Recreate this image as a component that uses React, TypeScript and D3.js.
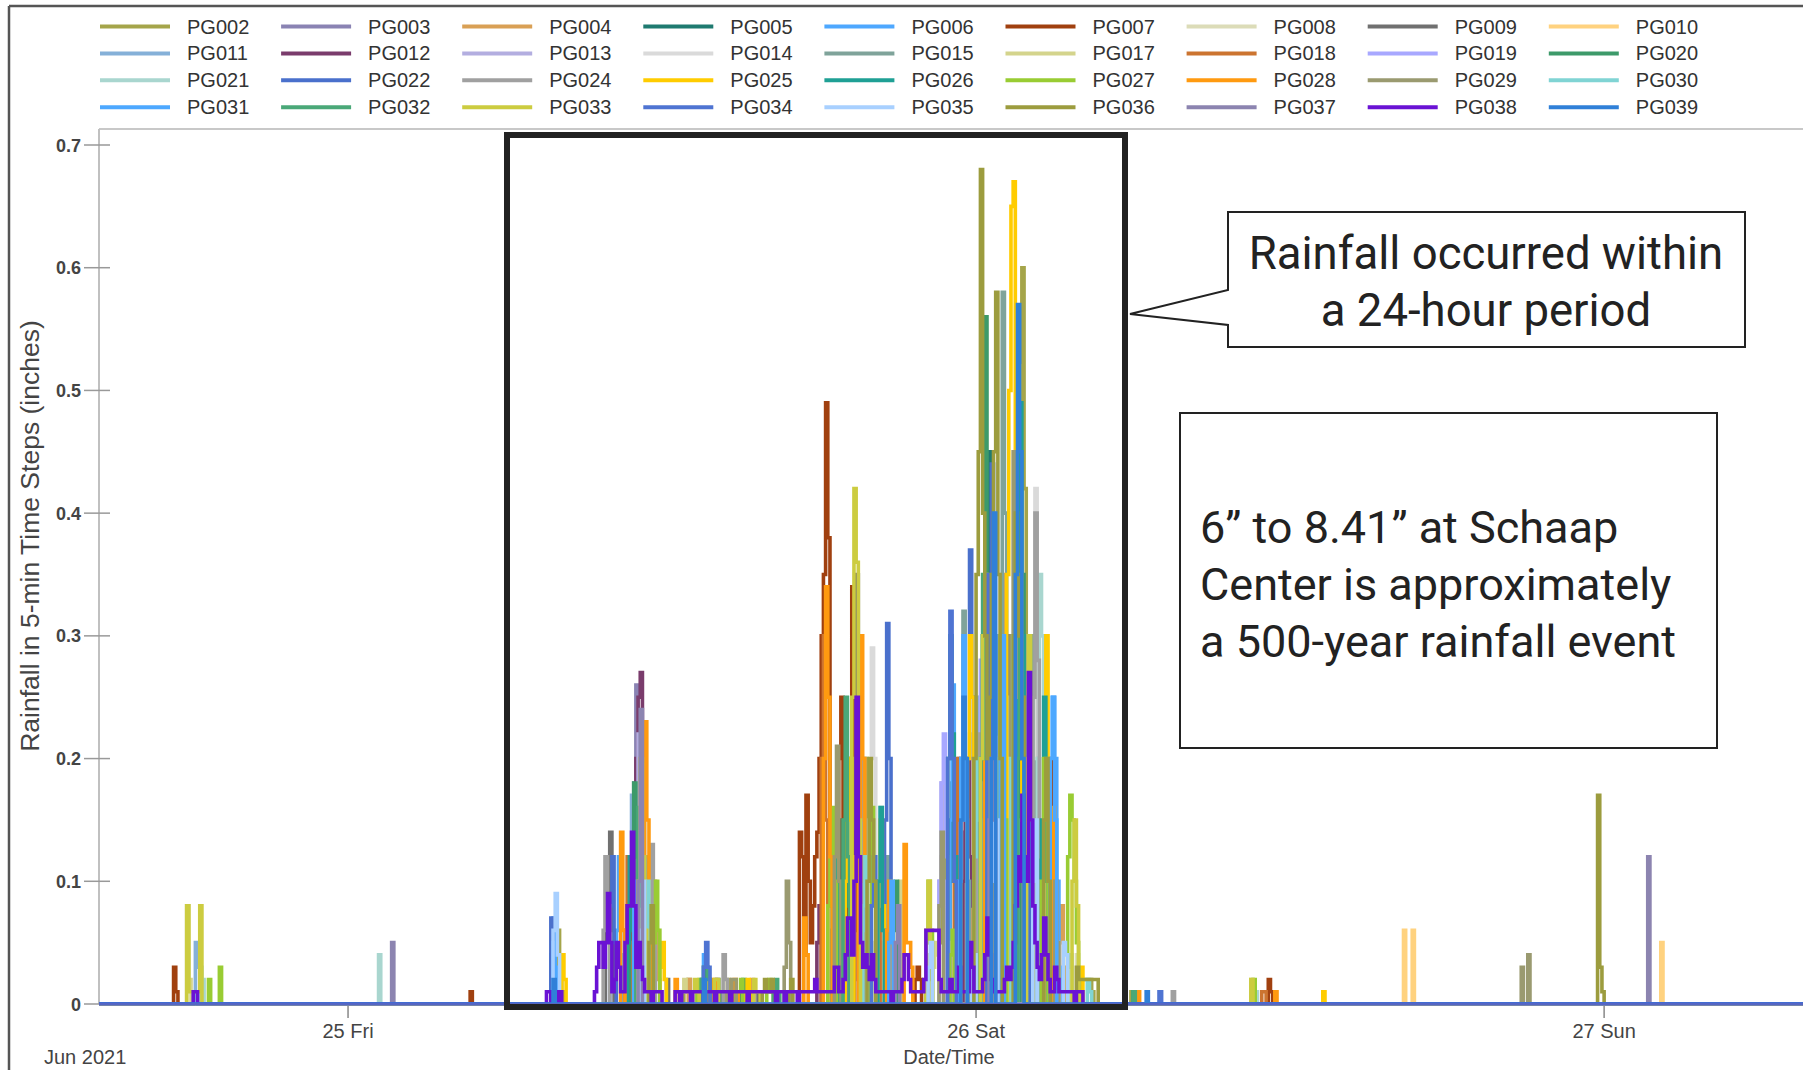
import React from "react";
import * as d3 from "d3";

type Run = [number, number[]];
// time = hours since 2021-06-24 00:00, values = consecutive 5-min rainfall (inches)

const PG002: Run[] = [[31.92,[0.03,0.06,0.03,0.01]],[35.25,[0.04,0.08,0.12,0.06,0.02]],[36.83,[0.01,0.01,0.02,0.01]],[38.42,[0.01,0.02,0.01,0.01]],[42.58,[0.06,0.12,0.08,0.03]],[43.67,[0.1,0.2,0.12]],[46.17,[0.02,0.04]],[46.58,[0.05,0.12,0.18,0.1]],[48.08,[0.15,0.25,0.3,0.2]],[49.58,[0.2,0.35,0.6,0.42,0.2,0.1]],[52.0,[0.02,0.02,0.02,0.02,0.02,0.01]],[53.92,[0.01]]];
const PG003: Run[] = [[34.75,[0.03,0.1,0.18,0.26,0.15,0.06,0.02]],[39.0,[0.01,0.01]],[42.83,[0.04,0.08,0.05]],[47.25,[0.1,0.2,0.14]],[48.0,[0.1,0.15,0.22,0.18,0.12,0.2,0.25,0.15]],[50.5,[0.1,0.06]]];
const PG004: Run[] = [[35.58,[0.04,0.1,0.06,0.02]],[37.0,[0.02,0.01]],[39.33,[0.01,0.02]],[42.92,[0.1,0.2,0.15,0.08]],[44.5,[0.05,0.08]],[47.5,[0.05,0.1,0.15,0.12]],[48.92,[0.2,0.35,0.25,0.1]],[51.17,[0.05,0.08,0.03]]];
const PG005: Run[] = [[34.83,[0.05,0.1,0.04]],[38.0,[0.01,0.02,0.01]],[42.75,[0.08,0.15,0.1]],[47.0,[0.1,0.18,0.12]],[48.33,[0.15,0.3,0.45,0.3,0.15]],[49.5,[0.25,0.35,0.2]],[50.33,[0.2,0.1]]];
const PG006: Run[] = [[31.75,[0.04,0.07,0.03]],[34.25,[0.06,0.12,0.04]],[37.5,[0.02,0.04,0.02]],[47.0,[0.15,0.26,0.1]],[48.92,[0.15,0.3,0.2]],[50.83,[0.15,0.25,0.2,0.1,0.03]]];
const PG007: Run[] = [[17.33,[0.03,0.01]],[28.67,[0.01]],[34.67,[0.08,0.12,0.05]],[41.25,[0.14,0.12,0.04,0.17,0.1,0.05,0.08,0.12,0.14,0.2,0.3,0.35,0.49,0.38,0.15,0.08,0.04,0.1,0.2,0.25,0.12,0.06,0.1,0.2,0.34,0.18,0.06,0.02]],[45.67,[0.02,0.03,0.02]],[50.75,[0.1,0.2,0.13,0.05]],[59.17,[0.02,0.01]]];
const PG008: Run[] = [[35.42,[0.05,0.08,0.03]],[43.83,[0.06,0.12,0.05]],[47.58,[0.1,0.18,0.22,0.12]],[49.17,[0.15,0.25,0.1]],[51.83,[0.04]]];
const PG009: Run[] = [[33.83,[0.12,0.08,0.14,0.06]],[36.17,[0.02]],[39.5,[0.01,0.01]],[42.5,[0.06,0.1]],[43.33,[0.2,0.35,0.22,0.1]],[48.42,[0.1,0.2,0.15]],[49.17,[0.2,0.3,0.25]],[50.17,[0.3,0.15]]];
const PG010: Run[] = [[64.33,[0.06,0,0,0,0.06]],[74.17,[0.05]]];
const PG011: Run[] = [[18.17,[0.05,0.03]],[34.75,[0.1,0.17,0.08]],[43.58,[0.08,0.15,0.06]],[47.92,[0.15,0.25,0.2,0.1]],[49.92,[0.2,0.3,0.15]]];
const PG012: Run[] = [[34.83,[0.04,0.12,0.2,0.25,0.27,0.12,0.04]],[41.92,[0.05,0.08]],[43.33,[0.1,0.14]],[47.5,[0.1,0.15,0.2,0.12,0.08]],[49.08,[0.1,0.18,0.08]]];
const PG013: Run[] = [[35.0,[0.1,0.22,0.12]],[46.58,[0.1,0.18,0.1]],[48.33,[0.15,0.25,0.3,0.2]],[50.33,[0.1,0.05]]];
const PG014: Run[] = [[35.5,[0.06,0.1]],[39.17,[0.01,0.01]],[43.92,[0.15,0.29,0.2,0.1,0.05]],[48.42,[0.15,0.25,0.2]],[50.17,[0.2,0.42,0.3,0.15]],[51.0,[0.03,0.05]]];
const PG015: Run[] = [[35.17,[0.06,0.12,0.05]],[44.5,[0.08,0.12]],[47.42,[0.2,0.32,0.2,0.1]],[48.92,[0.3,0.58,0.4,0.25,0.1]],[50.0,[0.2,0.3,0.15]]];
const PG017: Run[] = [[17.83,[0.08,0.02]],[35.33,[0.05,0.08]],[36.67,[0.01,0.01,0.02,0.01,0.01]],[43.0,[0.1,0.18,0.12]],[45.0,[0.06,0.1]],[46.33,[0.03,0.05,0.04]],[49.0,[0.15,0.25,0.2]],[58.5,[0.02]]];
const PG018: Run[] = [[34.58,[0.06,0.12,0.05]],[42.08,[0.2,0.3,0.15]],[44.17,[0.06,0.1]],[47.17,[0.1,0.2,0.15]],[49.42,[0.25,0.4,0.2]],[58.92,[0.01,0.01]]];
const PG019: Run[] = [[37.17,[0.01,0.01]],[46.58,[0.1,0.18,0.22,0.12,0.05]],[48.0,[0.15,0.2,0.28,0.15]],[49.67,[0.2,0.1]]];
const PG020: Run[] = [[34.75,[0.06,0.1,0.18,0.12,0.04]],[37.58,[0.02,0.03,0.02]],[39.0,[0.01,0.02]],[42.92,[0.1,0.15,0.08]],[44.83,[0.06,0.1]],[48.25,[0.3,0.56,0.35,0.2]],[49.67,[0.2,0.35,0.2]],[54.0,[0.01]]];
const PG021: Run[] = [[18.33,[0.03,0.02]],[25.17,[0.04]],[35.17,[0.08,0.17,0.1]],[44.25,[0.1,0.16,0.08]],[48.67,[0.2,0.3,0.22]],[50.33,[0.2,0.35,0.3,0.15,0.08]],[51.5,[0.03,0.04]],[58.67,[0.01]]];
const PG022: Run[] = [[31.75,[0.07,0.04]],[34.0,[0.08,0.12,0.05]],[44.5,[0.15,0.31,0.2]],[47.67,[0.2,0.37,0.25]],[48.5,[0.3,0.44,0.3,0.15]],[49.92,[0.15,0.25]],[55.0,[0.01]]];
const PG024: Run[] = [[33.75,[0.06,0.12,0.08]],[35.5,[0.08,0.13,0.06]],[38.33,[0.04,0.02]],[43.58,[0.1,0.2,0.12]],[48.0,[0.15,0.22,0.18]],[50.17,[0.25,0.4,0.28,0.12]],[55.5,[0.01]]];
const PG025: Run[] = [[32.17,[0.04,0.02]],[35.92,[0.03,0.05,0.02]],[37.75,[0.02,0.01]],[39.17,[0.01,0.02,0.01]],[43.0,[0.1,0.15,0.2,0.12]],[44.25,[0.1,0.15,0.08]],[47.67,[0.2,0.3,0.25]],[49.17,[0.35,0.5,0.65,0.67,0.45,0.52,0.3,0.15]],[50.58,[0.2,0.3,0.15]],[51.92,[0.02,0.03]],[61.25,[0.01]]];
const PG026: Run[] = [[34.67,[0.05,0.12,0.08]],[42.5,[0.1,0.15,0.1]],[44.25,[0.1,0.16,0.06]],[46.92,[0.2,0.3,0.22,0.12]],[48.17,[0.2,0.3]],[49.58,[0.3,0.49,0.3,0.15]],[50.5,[0.15,0.25,0.1]]];
const PG027: Run[] = [[18.67,[0.02]],[19.08,[0.03]],[35.67,[0.05,0.1,0.06]],[37.33,[0.01,0.02]],[38.83,[0.01,0.01,0.02]],[40.0,[0.01,0.02,0.01]],[42.33,[0.08,0.12,0.16,0.1]],[43.92,[0.08,0.16,0.1]],[46.08,[0.05,0.1,0.06]],[47.0,[0.04,0.06]],[48.83,[0.2,0.3,0.25,0.15]],[50.5,[0.1,0.2,0.15]],[51.5,[0.12,0.17,0.15,0.1,0.05]],[58.58,[0.02]]];
const PG028: Run[] = [[34.42,[0.14,0.06]],[35.25,[0.12,0.23,0.15,0.06]],[36.5,[0.02,0.01]],[37.92,[0.02,0.02]],[38.67,[0.01,0.02,0.01]],[41.42,[0.07,0.04]],[42.17,[0.2,0.34,0.25,0.12]],[43.5,[0.15,0.3,0.2,0.08]],[44.58,[0.06,0.1]],[45.25,[0.13,0.05,0.05,0.03]],[48.33,[0.2,0.3,0.25,0.15]],[50.92,[0.16,0.1]],[54.17,[0.01]],[59.42,[0.01]]];
const PG029: Run[] = [[38.5,[0.01,0.01,0.02,0.02]],[40.67,[0.03,0.1,0.05]],[42.58,[0.12,0.21,0.1]],[46.58,[0.08,0.14]],[48.5,[0.2,0.3]],[49.33,[0.3,0.45,0.35,0.25,0.3,0.2]],[51.0,[0.1,0.05]],[68.83,[0.03,0,0,0.04]]];
const PG030: Run[] = [[35.33,[0.06,0.1]],[43.67,[0.08,0.12]],[47.92,[0.12,0.2,0.15]],[49.33,[0.2,0.3,0.15]],[52.25,[0.02,0.01]]];
const PG031: Run[] = [[31.83,[0.05]],[34.92,[0.08,0.1]],[44.67,[0.05,0.1]],[47.33,[0.1,0.2,0.3,0.15]],[48.92,[0.2,0.3]],[50.83,[0.2,0.25,0.15]]];
const PG032: Run[] = [[35.0,[0.05,0.16,0.08]],[37.5,[0.02,0.03,0.03,0.02]],[40.25,[0.01,0.02,0.01]],[42.92,[0.15,0.25,0.12]],[48.17,[0.2,0.35,0.2]],[49.58,[0.2,0.3,0.25,0.1]],[54.0,[0.01]]];
const PG033: Run[] = [[17.83,[0.08,0.01,0.01,0.01,0.01,0.01,0.08]],[35.08,[0.1,0.2,0.12,0.06]],[37.17,[0.01,0.02,0.01]],[38.0,[0.02,0.02]],[39.5,[0.02,0.01,0.01]],[43.25,[0.25,0.42,0.36,0.15]],[46.08,[0.06,0.1,0.05]],[48.17,[0.2,0.3,0.35,0.25]],[49.92,[0.2,0.3,0.15]],[51.67,[0.1,0.15,0.08]],[58.5,[0.02]]];
const PG034: Run[] = [[37.58,[0.03,0.05,0.03]],[44.0,[0.08,0.12]],[46.92,[0.2,0.32,0.2,0.1]],[48.42,[0.35,0.25]],[55.0,[0.01]]];
const PG035: Run[] = [[31.83,[0.06,0.09,0.04]],[35.17,[0.06,0.1]],[46.17,[0.03,0.05]],[47.83,[0.03,0.04]],[48.58,[0.1,0.2,0.15]],[50.17,[0.1,0.15]],[51.33,[0.05,0.04]]];
const PG036: Run[] = [[35.5,[0.05,0.08]],[39.83,[0.01,0.02,0.01,0.01,0.02,0.01]],[40.83,[0.01,0.02]],[43.83,[0.1,0.2,0.15,0.1]],[47.92,[0.2,0.35,0.45,0.68,0.4,0.3,0.2,0.25,0.35,0.45,0.58,0.35,0.2]],[49.42,[0.3,0.4,0.3,0.35,0.25]],[50.58,[0.15,0.2,0.1]],[51.83,[0.03,0.02,0.02,0.02,0.02,0.02,0.02,0.02,0.02,0.02]],[71.75,[0.17,0.03,0.01]]];
const PG037: Run[] = [[25.67,[0.05]],[35.08,[0.1,0.24]],[44.92,[0.05,0.08]],[48.5,[0.15,0.2,0.15]],[73.67,[0.12]]];
const PG038: Run[] = [
  [18.08,[0.01,0.01]],
  [31.58,[0.01,0.01,0,0.01,0.01,0,0.01]],
  [33.42,[0.01,0.03,0.05,0.05,0.03,0.05,0.09,0.05,0.01,0.02,0.05,0.03,0.01,0.01,0.05,0.08,0.08,0.14,0.08,0.03,0.05,0.03,0.02,0.01,0.01,0.01,0,0.01,0.01,0.01,0.01]],
  [36.5,[0.01,0.01,0,0.01,0.01,0.01,0.01,0,0.01,0.01,0.01,0.01,0.01,0,0.01,0.01,0.01,0.01,0,0.01,0.01,0.01,0.01,0.01,0.01,0,0.01,0.01,0.01,0.01,0.01,0.01,0.01,0,0.01,0.01,0.01,0.01,0.01,0.01,0.01,0.01,0.01,0.01,0.01,0.01,0,0.01]],
  [40.5,[0.01,0.01,0,0.01,0.01,0.01,0.01,0.01,0,0.01,0.01,0.01,0.01,0.01,0.01,0.01,0.02,0.01,0.01,0.01,0.01,0.01,0.01,0.01,0.01,0.03,0.03,0.01,0.01,0.02,0.04,0.07,0.07,0.04,0.1,0.25,0.12,0.05,0.03,0.04,0.03,0.02,0.04,0.02,0.01,0.01,0.01,0.01,0.01,0.01,0.01,0,0.01,0.01,0.01,0.01,0.02,0.04,0.04,0.02,0.01,0.01,0.01,0.01,0.01,0.01]],
  [46.0,[0.02,0.06,0.06,0.06,0.06,0.06,0.06,0.02,0.01,0.01,0.01,0.01,0.02,0.01,0.01,0.01,0.03,0.01,0.01,0.01,0.01,0.05,0.03,0.01,0.01,0.01,0.01,0.02,0.04,0.07,0.04,0.02,0.01,0.01,0.01,0.01,0.01,0.02,0.03,0.02,0.03,0.05,0.08,0.12,0.1,0.17,0.12,0.1,0.27,0.15,0.08,0.05,0.03,0.02,0.04,0.07,0.04,0.02,0.01,0.01,0.03,0.02,0.01,0.01,0.01,0.01,0.01,0.01,0.01,0,0.01,0.01,0.01]],
];
const PG039: Run[] = [[31.83,[0.02]],[37.58,[0.02]],[47.42,[0.15,0.25,0.2]],[48.58,[0.2,0.4]],[49.5,[0.35,0.57,0.45,0.2]],[54.5,[0.01]]];

const SERIES_NAMES = ["PG002","PG003","PG004","PG005","PG006","PG007","PG008","PG009","PG010","PG011","PG012","PG013","PG014","PG015","PG017","PG018","PG019","PG020","PG021","PG022","PG024","PG025","PG026","PG027","PG028","PG029","PG030","PG031","PG032","PG033","PG034","PG035","PG036","PG037","PG038","PG039"];
const SERIES_DATA: Run[][] = [PG002,PG003,PG004,PG005,PG006,PG007,PG008,PG009,PG010,PG011,PG012,PG013,PG014,PG015,PG017,PG018,PG019,PG020,PG021,PG022,PG024,PG025,PG026,PG027,PG028,PG029,PG030,PG031,PG032,PG033,PG034,PG035,PG036,PG037,PG038,PG039];
const SERIES_COLORS = ["#a5a54a","#8a83b3","#d9a055","#1f7a70","#4ea8ff","#a0400f","#dcdcb8","#707070","#ffd27f","#85b0d8","#7a3c6c","#b3aee0","#dadada","#7fa39a","#d4d48c","#cc7430","#a8a8ff","#3d9a6a","#a9d6cf","#4a70cc","#a0a0a0","#ffcc00","#1fa095","#99cc33","#ff9a10","#9a9a70","#80d4d4","#4da8ff","#4aa878","#cccc40","#4f74d2","#a8d0ff","#9c9c3e","#8c84b0","#6a12d4","#3080d8"];

const Y_TICKS = [0, 0.1, 0.2, 0.3, 0.4, 0.5, 0.6, 0.7];
const X_START = new Date(2021, 5, 24, 14, 29);
const X_END = new Date(2021, 5, 27, 7, 36);
const BASE_TIME = new Date(2021, 5, 24, 0, 0).getTime();
const CALLOUT_LINES = ["Rainfall occurred within", "a 24-hour period"];
const NOTE_LINES = ["6\u201D to 8.41\u201D at Schaap", "Center is approximately", "a 500-year rainfall event"];

const FONT = "'Liberation Sans', Arial, sans-serif";

export default function App() {
  const W = 1803, H = 1070;
  const left = 99, right = 1803, top = 129, bottom = 1004;
  const x = d3.scaleTime().domain([X_START, X_END]).range([left, right]);
  const y = d3.scaleLinear().domain([0, 0.7]).range([bottom, 145]);
  const STEP = 300000;
  const s0 = Math.floor((X_START.getTime() - BASE_TIME) / STEP);
  const s1 = Math.ceil((X_END.getTime() - BASE_TIME) / STEP);
  const line = d3.line<[number, number]>()
    .x(d => x(new Date(BASE_TIME + d[0] * STEP)))
    .y(d => y(d[1]))
    .curve(d3.curveStepAfter);
  const paths = SERIES_DATA.map(runs => {
    const m = new Map<number, number>();
    runs.forEach(([h, vals]) => {
      const s = Math.round(h * 12);
      vals.forEach((v, i) => m.set(s + i, v));
    });
    const pts: [number, number][] = [];
    for (let k = s0; k <= s1; k++) pts.push([k, m.get(k) ?? 0]);
    return line(pts) || "";
  });
  const dayTicks = x.ticks(d3.timeDay.every(1)!);
  const fmt = d3.timeFormat("%d %a");

  return (
    <svg width={W} height={H} style={{ position: "absolute", left: 0, top: 0, background: "#fff" }} fontFamily={FONT}>
      <rect x={0} y={0} width={W} height={H} fill="#fff" />
      <line x1={9} y1={6} x2={W} y2={6} stroke="#555" strokeWidth={2.5} />
      <line x1={9} y1={6} x2={9} y2={H} stroke="#555" strokeWidth={2.5} />
      {SERIES_NAMES.map((n, i) => {
        const col = i % 9, row = Math.floor(i / 9);
        const lx = 100 + col * 181.1, ly = 26.5 + row * 26.9;
        return (
          <g key={n}>
            <line x1={lx} x2={lx + 70} y1={ly} y2={ly} stroke={SERIES_COLORS[i]} strokeWidth={4} />
            <text x={lx + 87} y={ly + 7} fontSize={20} fill="#333">{n}</text>
          </g>
        );
      })}
      <line x1={left} y1={top} x2={right} y2={top} stroke="#c8c8c8" strokeWidth={2} />
      <line x1={left} y1={top} x2={left} y2={bottom} stroke="#c0c0c0" strokeWidth={2} />
      {Y_TICKS.map(t => (
        <g key={t}>
          <line x1={84} x2={110} y1={y(t)} y2={y(t)} stroke="#999" strokeWidth={1.5} />
          <text x={81} y={y(t) + 6.5} fontSize={18} fontWeight="bold" fill="#444" textAnchor="end">{t === 0 ? "0" : t.toFixed(1)}</text>
        </g>
      ))}
      <text transform="translate(39,536) rotate(-90)" fontSize={26.5} fill="#444" textAnchor="middle">Rainfall in 5-min Time Steps (inches)</text>
      {dayTicks.map(d => (
        <g key={d.getTime()}>
          <line x1={x(d)} x2={x(d)} y1={bottom} y2={1018} stroke="#888" strokeWidth={1.5} />
          <text x={x(d)} y={1038} fontSize={20} fill="#444" textAnchor="middle">{fmt(d)}</text>
        </g>
      ))}
      <text x={44} y={1064} fontSize={20} fill="#444">Jun 2021</text>
      <text x={949} y={1064} fontSize={20} fill="#444" textAnchor="middle">Date/Time</text>
      <defs>
        <clipPath id="plotclip"><rect x={left} y={top} width={right - left} height={bottom - top + 1.3} /></clipPath>
      </defs>
      <g clipPath="url(#plotclip)">
        {paths.map((p, i) => (
          <path key={SERIES_NAMES[i]} d={p} fill="none" stroke={SERIES_COLORS[i]} strokeWidth={3.6} />
        ))}
      </g>
      <line x1={left} x2={right} y1={bottom} y2={bottom} stroke="#5566c4" strokeWidth={2} />
      <rect x={507} y={135} width={618} height={872} fill="none" stroke="#222" strokeWidth={6} />
      <path d="M1228,212 H1745 V347 H1228 V325 L1130,314 L1228,290 Z" fill="#fff" stroke="#222" strokeWidth={2} />
      {CALLOUT_LINES.map((t, i) => (
        <text key={t} x={1486} y={269 + i * 57} fontSize={45.5} fill="#222" textAnchor="middle" fontFamily="Roboto, sans-serif">{t}</text>
      ))}
      <rect x={1180} y={413} width={537} height={335} fill="#fff" stroke="#222" strokeWidth={2} />
      {NOTE_LINES.map((t, i) => (
        <text key={t} x={1200} y={543 + i * 57} fontSize={45} fill="#222" fontFamily="Roboto, sans-serif">{t}</text>
      ))}
    </svg>
  );
}
